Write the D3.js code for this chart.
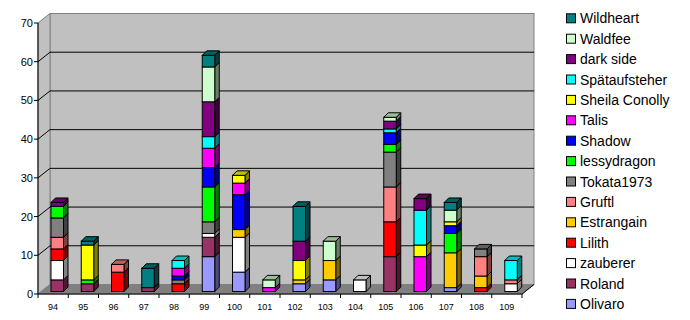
<!DOCTYPE html>
<html>
<head>
<meta charset="utf-8">
<script src="https://cdn.jsdelivr.net/npm/d3@7"></script>
<style>
  body { margin: 0; background: #fff; }
  svg { display: block; font-family: "Liberation Sans", Arial, sans-serif; }
</style>
</head>
<body>
<div id="chart"></div>
<script>
// categories on the x axis
const categories = ["94", "95", "96", "97", "98", "99", "100", "101", "102", "103", "104", "105", "106", "107", "108", "109"];

// series in stacking order (bottom first)
const seriesNames = ["Olivaro", "Roland", "zauberer", "Lilith", "Estrangain", "Gruftl", "Tokata1973",
  "lessydragon", "Shadow", "Talis", "Sheila Conolly", "Spätaufsteher", "dark side", "Waldfee", "Wildheart"];

const seriesColors = ["#9999ff", "#993366", "#ffffff", "#ff0000", "#ffcc00", "#ff8080", "#808080",
  "#00ff00", "#0000ff", "#ff00ff", "#ffff00", "#00ffff", "#800080", "#ccffcc", "#008080"];

// values per series, one per category (94..109)
const olivaro      = [0, 0, 0, 0, 0, 9, 5, 0, 2, 3, 0, 0, 0, 1, 0, 0];
const roland       = [3, 2, 0, 1, 0, 5, 0, 0, 0, 0, 0, 9, 0, 0, 0, 0];
const zauberer     = [5, 0, 0, 0, 0, 1, 9, 0, 0, 0, 3, 0, 0, 0, 0, 2];
const lilith       = [3, 0, 5, 0, 2, 0, 0, 0, 0, 0, 0, 9, 0, 0, 1, 0];
const estrangain   = [0, 0, 0, 0, 0, 0, 2, 0, 1, 5, 0, 0, 0, 9, 3, 0];
const gruftl       = [3, 0, 2, 0, 0, 0, 0, 0, 0, 0, 0, 9, 0, 0, 5, 1];
const tokata       = [5, 0, 0, 0, 1, 3, 0, 0, 0, 0, 0, 9, 0, 0, 2, 0];
const lessydragon  = [3, 1, 0, 0, 0, 9, 0, 0, 0, 0, 0, 2, 0, 5, 0, 0];
const shadow       = [0, 0, 0, 0, 1, 5, 9, 0, 0, 0, 0, 3, 0, 2, 0, 0];
const talis        = [0, 0, 0, 0, 2, 5, 3, 1, 0, 0, 0, 0, 9, 0, 0, 0];
const sheila       = [0, 9, 0, 0, 0, 0, 2, 0, 5, 0, 0, 0, 3, 1, 0, 0];
const spaet        = [0, 0, 0, 0, 2, 3, 0, 0, 0, 0, 0, 1, 9, 0, 0, 5];
const darkSide     = [1, 0, 0, 0, 0, 9, 0, 0, 5, 0, 0, 2, 3, 0, 0, 0];
const waldfee      = [0, 0, 0, 0, 0, 9, 0, 2, 0, 5, 0, 1, 0, 3, 0, 0];
const wildheart    = [0, 1, 0, 5, 0, 3, 0, 0, 9, 0, 0, 0, 0, 2, 0, 0];

const seriesValues = [olivaro, roland, zauberer, lilith, estrangain, gruftl, tokata,
  lessydragon, shadow, talis, sheila, spaet, darkSide, waldfee, wildheart];

const yTicks = [0, 10, 20, 30, 40, 50, 60, 70];

const width = 690, height = 320;

// build table for d3.stack
const table = categories.map((c, i) => {
  const row = { cat: c };
  seriesNames.forEach((s, j) => { row[s] = seriesValues[j][i]; });
  return row;
});
const stacked = d3.stack().keys(seriesNames)(table);

// front plane scales
const x = d3.scaleBand().domain(categories).range([38, 522]).padding(0);
const y = d3.scaleLinear().domain([0, 70]).range([294, 23]);

// full depth of the 3D box, and bar placement inside it
const depthX = 12, depthY = -9.5;
const barShiftY = -2.5, barOffsetX = 13, barW = 12.5, barDepth = 4.5;

const svg = d3.select("#chart").append("svg")
  .attr("width", width).attr("height", height);

const x0 = 38, x1 = 522, yBottom = y(0), yTop = y(70);

// back wall
svg.append("rect")
  .attr("x", x0 + depthX).attr("y", yTop + depthY)
  .attr("width", x1 - x0).attr("height", yBottom - yTop)
  .attr("fill", "#c0c0c0").attr("stroke", "#808080");

// left wall
svg.append("path")
  .attr("d", `M${x0},${yBottom}L${x0},${yTop}L${x0 + depthX},${yTop + depthY}L${x0 + depthX},${yBottom + depthY}Z`)
  .attr("fill", "#c0c0c0").attr("stroke", "#808080");

// floor
svg.append("path")
  .attr("d", `M${x0},${yBottom}L${x1},${yBottom}L${x1 + depthX},${yBottom + depthY}L${x0 + depthX},${yBottom + depthY}Z`)
  .attr("fill", "#808080").attr("stroke", "#808080");

// gridlines on left and back wall
const grid = svg.append("g").attr("stroke", "#000").attr("fill", "none");
yTicks.filter(t => t > 0 && t < 70).forEach(t => {
  grid.append("path")
    .attr("d", `M${x0},${y(t)}L${x0 + depthX},${y(t) + depthY}L${x1 + depthX},${y(t) + depthY}`);
});

// y axis
const yAxis = svg.append("g");
yAxis.append("line")
  .attr("x1", x0).attr("x2", x0).attr("y1", yTop).attr("y2", yBottom)
  .attr("stroke", "#000");
yAxis.selectAll("line.tick").data(yTicks).join("line")
  .attr("class", "tick")
  .attr("x1", x0 - 4).attr("x2", x0)
  .attr("y1", d => y(d)).attr("y2", d => y(d))
  .attr("stroke", "#000");
yAxis.selectAll("text").data(yTicks).join("text")
  .attr("x", x0 - 5).attr("y", d => y(d))
  .attr("text-anchor", "end").attr("dominant-baseline", "central")
  .attr("font-size", "11px").attr("fill", "#000")
  .text(d => d);

// x axis
const xAxis = svg.append("g");
xAxis.append("line")
  .attr("x1", x0).attr("x2", x1).attr("y1", yBottom).attr("y2", yBottom)
  .attr("stroke", "#000");
xAxis.append("line")
  .attr("x1", x1).attr("x2", x1 + depthX).attr("y1", yBottom).attr("y2", yBottom + depthY)
  .attr("stroke", "#000");
xAxis.selectAll("line.tick").data(categories.concat(["end"])).join("line")
  .attr("class", "tick")
  .attr("x1", (d, i) => x0 + i * x.bandwidth())
  .attr("x2", (d, i) => x0 + i * x.bandwidth())
  .attr("y1", yBottom).attr("y2", yBottom + 4)
  .attr("stroke", "#000");
xAxis.selectAll("text").data(categories).join("text")
  .attr("x", d => x(d) + x.bandwidth() / 2).attr("y", 307)
  .attr("text-anchor", "middle").attr("dominant-baseline", "central")
  .attr("font-size", "9px").attr("fill", "#000")
  .text(d => d);

// shade helper
const shade = (c, k) => {
  const col = d3.rgb(c);
  return d3.rgb(col.r * k, col.g * k, col.b * k).formatHex();
};

// bars
const bars = svg.append("g").attr("stroke", "#000").attr("stroke-width", 1);
categories.forEach((c, i) => {
  const bx = x(c) + barOffsetX;
  const segs = [];
  stacked.forEach((layer, j) => {
    const d = layer[i];
    if (d[1] - d[0] > 0) segs.push({ y0: d[0], y1: d[1], color: seriesColors[j] });
  });
  segs.forEach((s, k) => {
    const yb = y(s.y0) + barShiftY, yt = y(s.y1) + barShiftY;
    // side face
    bars.append("path")
      .attr("d", `M${bx + barW},${yb}L${bx + barW},${yt}L${bx + barW + barDepth},${yt - barDepth}L${bx + barW + barDepth},${yb - barDepth}Z`)
      .attr("fill", shade(s.color, 0.5));
    // front face
    bars.append("rect")
      .attr("x", bx).attr("y", yt).attr("width", barW).attr("height", yb - yt)
      .attr("fill", s.color);
    // top face on the last segment
    if (k === segs.length - 1) {
      bars.append("path")
        .attr("d", `M${bx},${yt}L${bx + barW},${yt}L${bx + barW + barDepth},${yt - barDepth}L${bx + barDepth},${yt - barDepth}Z`)
        .attr("fill", shade(s.color, 0.75));
    }
  });
});

// legend, top of stack first
const legendItems = seriesNames.map((s, j) => ({ name: s, color: seriesColors[j] })).reverse();
const legend = svg.append("g");
legendItems.forEach((d, i) => {
  const ly = 18.3 + i * 20.4;
  legend.append("rect")
    .attr("x", 566.5).attr("y", ly - 4.5).attr("width", 9).attr("height", 9)
    .attr("fill", d.color).attr("stroke", "#000");
  legend.append("text")
    .attr("x", 580).attr("y", ly)
    .attr("dominant-baseline", "central")
    .attr("font-size", "14px").attr("fill", "#000")
    .text(d.name);
});
</script>
</body>
</html>
